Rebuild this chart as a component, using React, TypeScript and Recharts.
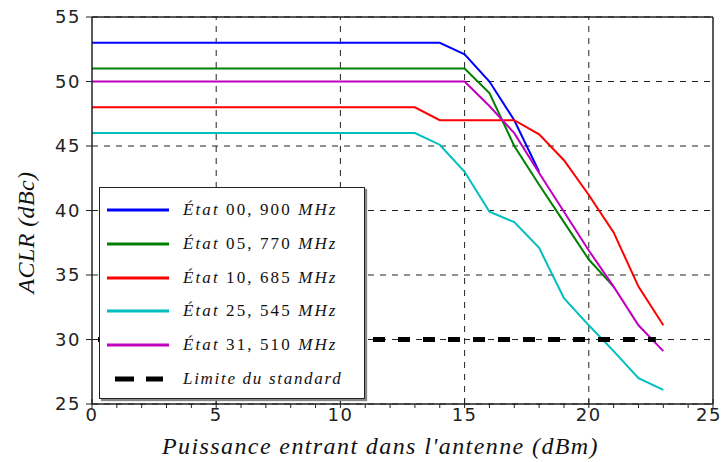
import React from 'react';
import { LineChart, Line, XAxis, YAxis, ReferenceLine, Legend, CartesianGrid } from 'recharts';

// ---- data ----
const power = [0, 1, 2, 3, 4, 5, 6, 7, 8, 9, 10, 11, 12, 13, 14, 15, 16, 17, 18, 19, 20, 21, 22, 23];
const etat00 = [53, 53, 53, 53, 53, 53, 53, 53, 53, 53, 53, 53, 53, 53, 53, 52.1, 50, 47, 43];
const etat05 = [51, 51, 51, 51, 51, 51, 51, 51, 51, 51, 51, 51, 51, 51, 51, 51, 49.1, 45, 42, 39.1, 36.2, 34.1];
const etat10 = [48, 48, 48, 48, 48, 48, 48, 48, 48, 48, 48, 48, 48, 48, 47, 47, 47, 47, 45.9, 43.9, 41.2, 38.3, 34.1, 31.1];
const etat25 = [46, 46, 46, 46, 46, 46, 46, 46, 46, 46, 46, 46, 46, 46, 45.1, 43, 39.9, 39.1, 37.1, 33.2, 31.1, 29.1, 27, 26.1];
const etat31 = [50, 50, 50, 50, 50, 50, 50, 50, 50, 50, 50, 50, 50, 50, 50, 50, 48.1, 46, 42.9, 39.9, 36.9, 34.1, 31.1, 29.1];
const limitX = [0, 22.7];
const limitY = [30, 30];

const states = ['00', '05', '10', '25', '31'];
const freqs = ['900', '770', '685', '545', '510'];
const limitLabel = 'Limite du standard';
const xTitle = "Puissance entrant dans l'antenne (dBm)";
const yTitle = 'ACLR (dBc)';

const xMajorTicks = [0, 5, 10, 15, 20, 25];
const xAllTicks = [0, 1, 2, 3, 4, 5, 6, 7, 8, 9, 10, 11, 12, 13, 14, 15, 16, 17, 18, 19, 20, 21, 22, 23, 24, 25];
const xGrid = [5, 10, 15, 20];
const yTicks = [25, 30, 35, 40, 45, 50, 55];

const colors = ['#0000ff', '#008000', '#ff0000', '#00bfbf', '#bf00bf'];

const build = (xs: number[], ys: number[]) => ys.map((v, i) => ({ x: xs[i], y: v }));
const seriesData = [etat00, etat05, etat10, etat25, etat31].map((ys) => build(power, ys));
const limitData = build(limitX, limitY);

const TICK_FONT = "'DejaVu Sans', sans-serif";
const SERIF = "'Liberation Serif', 'DejaVu Serif', serif";

const XTick = (props: any) => {
  const { x, y, payload } = props;
  const major = xMajorTicks.includes(payload.value);
  const last = payload.value === xMajorTicks[xMajorTicks.length - 1];
  return (
    <g>
      <line x1={x} x2={x} y1={major ? y - 5 : y} y2={y + 4} stroke="#222" strokeWidth={1} />
      {major && (
        <text x={last ? x - 4 : x} y={y + 17} textAnchor="middle" style={{ fontFamily: TICK_FONT }} fontSize={18} letterSpacing={1.5} fill="#222">
          {payload.value}
        </text>
      )}
    </g>
  );
};

const YTick = (props: any) => {
  const { x, y, payload } = props;
  return (
    <g>
      <text x={x} y={y} dy={6} textAnchor="end" style={{ fontFamily: TICK_FONT }} fontSize={18} letterSpacing={1.5} fill="#222">
        {payload.value}
      </text>
    </g>
  );
};

const LegendBox = () => (
  <div
    style={{
      position: 'relative',
      width: 266,
      height: 212,
      boxSizing: 'border-box',
      border: '1.5px solid #222',
      background: '#fff',
      boxShadow: '2px 2px 1px #888',
      fontFamily: SERIF,
      fontSize: 17,
      letterSpacing: 2.1,
      color: '#111',
    }}
  >
    {states.map((s, i) => (
      <div key={i} style={{ position: 'absolute', left: 7, top: 12 + i * 33.8, height: 20, display: 'flex', alignItems: 'center' }}>
        <svg width={62} height={8} style={{ display: 'block' }}>
          <line x1={0} y1={4} x2={62} y2={4} stroke={colors[i]} strokeWidth={3} />
        </svg>
        <span style={{ marginLeft: 14, whiteSpace: 'nowrap', fontFamily: SERIF }}>
          <i>État</i> {s}, {freqs[i]} <i>MHz</i>
        </span>
      </div>
    ))}
    <div style={{ position: 'absolute', left: 7, top: 12 + 5 * 33.8, height: 20, display: 'flex', alignItems: 'center' }}>
      <svg width={62} height={8} style={{ display: 'block' }}>
        <line x1={8} y1={4} x2={56} y2={4} stroke="#000" strokeWidth={5} strokeDasharray="19 12" />
      </svg>
      <span style={{ marginLeft: 14, whiteSpace: 'nowrap', letterSpacing: 1.7, fontFamily: SERIF }}>
        <i>{limitLabel}</i>
      </span>
    </div>
  </div>
);

const XTitle = (props: any) => {
  const vb = props.viewBox;
  return (
    <text
      x={vb.x + vb.width / 2 - 22}
      y={vb.y + 50}
      textAnchor="middle"
      style={{ fontFamily: SERIF, fontStyle: 'italic' }}
      fontSize={24}
      letterSpacing={1.4}
      fill="#111"
    >
      {xTitle}
    </text>
  );
};

const YTitle = (props: any) => {
  const vb = props.viewBox;
  const cx = vb.x + 26;
  const cy = vb.y + vb.height / 2 + 22;
  return (
    <text
      x={cx}
      y={cy}
      transform={`rotate(-90, ${cx}, ${cy})`}
      textAnchor="middle"
      dominantBaseline="central"
      style={{ fontFamily: SERIF, fontStyle: 'italic' }}
      fontSize={24}
      letterSpacing={0.4}
      fill="#111"
    >
      {yTitle}
    </text>
  );
};

export default function App() {
  return (
    <div style={{ position: 'absolute', left: 0, top: 0, width: 722, height: 462, background: '#fff' }}>
      <LineChart width={722} height={462} margin={{ top: 17, right: 9, bottom: 0, left: 0 }}>
        <CartesianGrid stroke="#222" strokeDasharray="6 6" strokeWidth={1} vertical={false} />
        {xGrid.map((v) => (
          <ReferenceLine key={'g' + v} x={v} stroke="#222" strokeDasharray="6 6" strokeWidth={1} />
        ))}
        <XAxis
          dataKey="x"
          type="number"
          domain={[0, 25]}
          ticks={xAllTicks}
          interval={0}
          allowDataOverflow
          height={58}
          tickSize={0}
          tickMargin={0}
          tickLine={false}
          tick={<XTick />}
          axisLine={{ stroke: '#222', strokeWidth: 1.5 }}
          label={<XTitle />}
        />
        <YAxis
          type="number"
          domain={[25, 55]}
          ticks={yTicks}
          interval={0}
          allowDataOverflow
          width={92}
          tickSize={6}
          tickMargin={5}
          tickLine={{ stroke: '#222', strokeWidth: 1 }}
          tick={<YTick />}
          axisLine={{ stroke: '#222', strokeWidth: 1.5 }}
          label={<YTitle />}
        />
        <ReferenceLine y={55} stroke="#222" strokeWidth={1.5} />
        <ReferenceLine x={25} stroke="#222" strokeWidth={1.5} />
        {seriesData.map((d, i) => (
          <Line
            key={i}
            data={d}
            dataKey="y"
            type="linear"
            stroke={colors[i]}
            strokeWidth={2}
            dot={false}
            activeDot={false}
            isAnimationActive={false}
          />
        ))}
        <Line
          data={limitData}
          dataKey="y"
          type="linear"
          stroke="#000"
          strokeWidth={5}
          strokeDasharray="12 13"
          strokeDashoffset={-6}
          dot={false}
          activeDot={false}
          isAnimationActive={false}
        />
        <Legend
          layout="vertical"
          align="center"
          verticalAlign="middle"
          content={<LegendBox />}
          wrapperStyle={{ left: 99, top: 187, width: 266, height: 212 }}
        />
      </LineChart>
    </div>
  );
}
